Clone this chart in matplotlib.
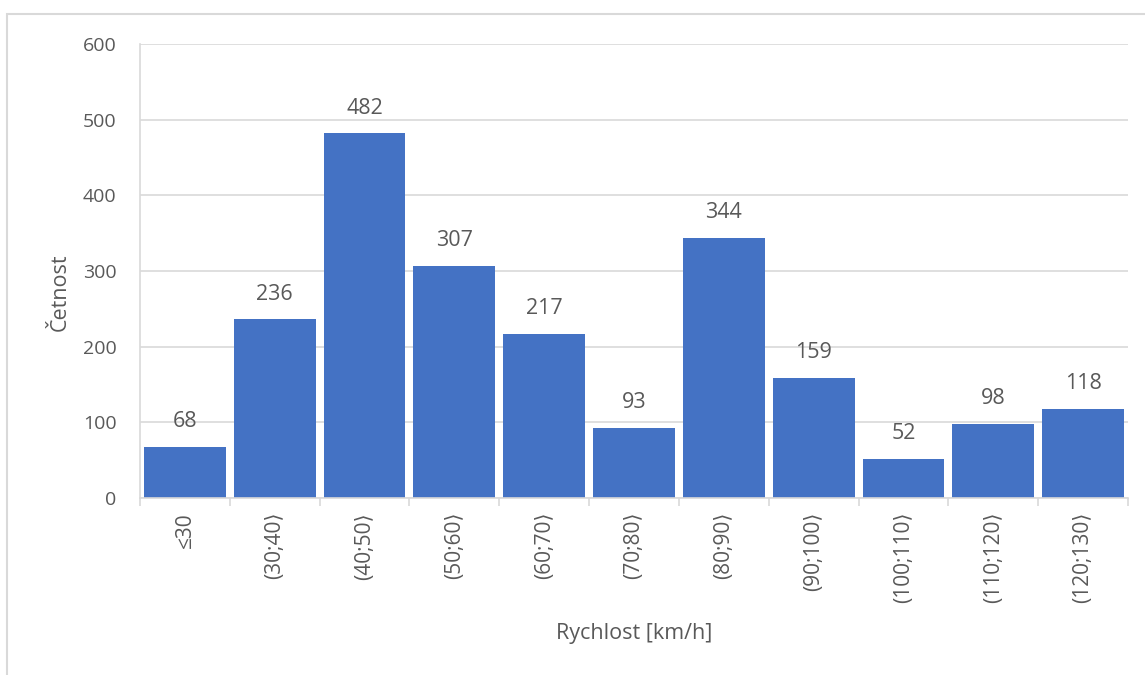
import matplotlib.pyplot as plt
from matplotlib.patches import Rectangle

plt.rcParams['font.family'] = ['Open Sans', 'DejaVu Sans']

# rychlostní třídy a četnosti
tridy = ['≤30', '(30;40⟩', '(40;50⟩', '(50;60⟩', '(60;70⟩', '(70;80⟩',
         '(80;90⟩', '(90;100⟩', '(100;110⟩', '(110;120⟩', '(120;130⟩']
cetnost = [68, 236, 482, 307, 217, 93, 344, 159, 52, 98, 118]

seda = '#595959'
mrizka = '#d9d9d9'

fig = plt.figure(figsize=(11.45, 6.75), dpi=100)
# rámeček grafu
fig.patches.append(Rectangle((7 / 1145, -0.1), 1.2, 0.1 + (675 - 14) / 675,
                             transform=fig.transFigure, fill=False,
                             edgecolor=mrizka, linewidth=1.5))

ax = fig.add_axes([140 / 1145, (675 - 498) / 675, (1128 - 140) / 1145, (498 - 44) / 675])
x = range(len(tridy))
sloupce = ax.bar(x, cetnost, width=0.91, color='#4472C4')
for s, v in zip(sloupce, cetnost):
    ax.annotate(str(v), (s.get_x() + s.get_width() / 2, v), xytext=(0, 18),
                textcoords='offset points', ha='center', va='center',
                fontsize=15.5, color=seda)

ax.set_xlim(-0.5, len(tridy) - 0.5)
ax.set_ylim(0, 600)
ax.set_yticks(range(0, 601, 100))
ax.grid(axis='y', color=mrizka, linewidth=1.2)
ax.set_axisbelow(True)

ax.set_xticks(x)
ax.set_xticklabels(tridy, rotation=90, fontsize=15, color=seda)
ax.set_xticks([i - 0.5 for i in range(len(tridy) + 1)], minor=True)
ax.tick_params(axis='x', which='major', length=0, pad=10)
ax.tick_params(axis='x', which='minor', length=6, color=mrizka, width=1.2)
ax.tick_params(axis='y', length=0, labelsize=14, labelcolor=seda, pad=17)

for k in ['top', 'right']:
    ax.spines[k].set_visible(False)
for k in ['left', 'bottom']:
    ax.spines[k].set_color(mrizka)
    ax.spines[k].set_linewidth(1.2)

ax.set_xlabel('Rychlost [km/h]', fontsize=15.5, color=seda, va='center')
ax.set_ylabel('Četnost', fontsize=15.5, color=seda, va='center')
ax.xaxis.set_label_coords(0.5, (498 - 634) / 454)
ax.yaxis.set_label_coords((60 - 140) / 988, (498 - 292) / 454)

fig.savefig('out.png', dpi=100)
